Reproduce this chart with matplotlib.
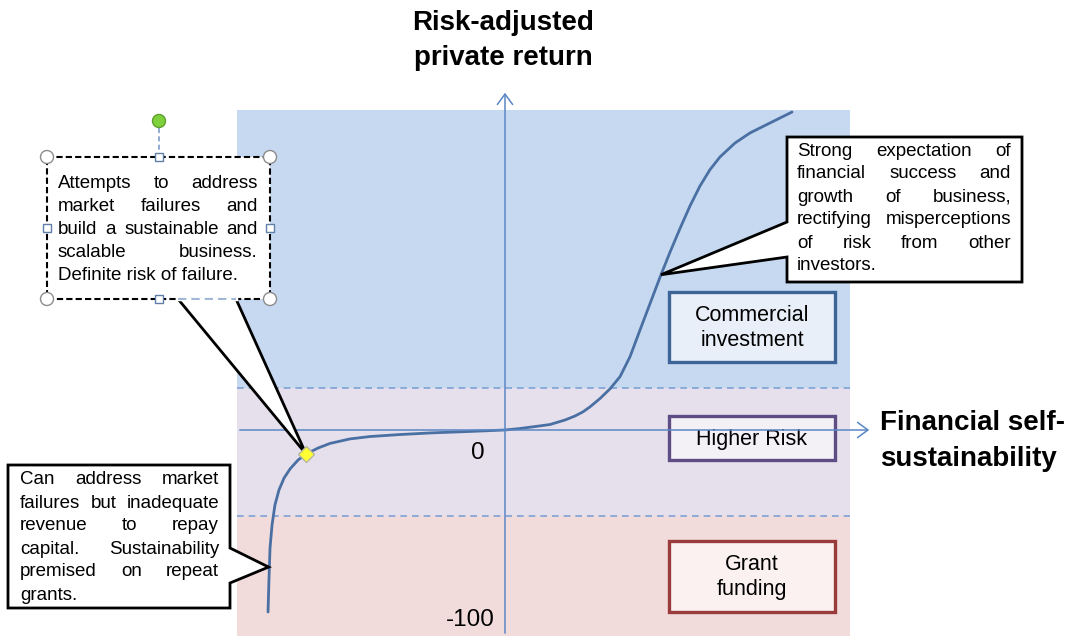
import numpy as np
import matplotlib.pyplot as plt
from matplotlib.patches import Rectangle, Polygon, Circle

plt.rcParams['font.family'] = ['Liberation Sans', 'DejaVu Sans']

# curve (x: self-sustainability, y: risk-adjusted return)
curve_x = [-130.2, -129.7, -129.1, -128.0, -126.4, -124.2, -121.4, -118.1, -113.7,
           -109.3, -102.7, -96.2, -85.2, -74.2, -57.7, -40.7, -19.2, 0.0,
           8.2, 16.5, 24.7, 33.0, 38.5, 42.9, 46.7, 52.2, 57.7, 63.2, 68.7,
           74.2, 79.7, 85.2, 90.7, 96.2, 101.6, 107.1, 112.6, 118.1, 126.4,
           134.6, 145.6, 157.7]
curve_y = [-100.0, -82.4, -64.8, -52.2, -41.2, -33.0, -26.4, -21.4, -16.5,
           -13.2, -9.9, -7.4, -4.9, -3.6, -2.5, -1.6, -0.8, 0.0,
           0.8, 1.9, 3.0, 5.5, 7.7, 10.0, 12.7, 17.3, 22.6, 29.3, 40.3,
           55.0, 69.5, 84.0, 97.8, 110.8, 123.0, 134.0, 143.0, 150.0, 157.7,
           163.2, 168.7, 174.7]

marker_pt = (-109.3, -13.2)      # yellow diamond
growth_pt = (85.7, 85.3)         # right callout points here
grant_pt = (-129.9, -75.3)       # lower-left callout points here

band_edges = [175.8, 23.1, -47.3, -113.2]
band_colors = ['#C6D9F1', '#E5E0EC', '#F2DCDB']

tick_labels = ['0', '-100']
tick_pos = [(-14.8, -12.6), (-19.2, -104.4)]

zones = ['Commercial\ninvestment', 'Higher Risk', 'Grant\nfunding']
zone_edges = ['#3C6496', '#5E4C84', '#993B3A']
zone_fills = ['#E9EFF8', '#F3F0F6', '#FBF1F1']

text_top_left = ['Attempts to address', 'market failures and',
                 'build a sustainable and', 'scalable business.',
                 'Definite risk of failure.']
text_bottom_left = ['Can address market', 'failures but inadequate',
                    'revenue to repay', 'capital. Sustainability',
                    'premised on repeat', 'grants.']
text_right = ['Strong expectation of', 'financial success and',
              'growth of business,', 'rectifying misperceptions',
              'of risk from other', 'investors.']

W, H = 1078, 636
fig = plt.figure(figsize=(W / 100, H / 100), dpi=100)

# data axes sits on the shaded area
ax = fig.add_axes([237 / W, 0, 613 / W, 526 / H])
ax.set_xlim(-147.25, 189.56)
ax.set_ylim(-113.19, 175.82)
ax.axis('off')
for top, bot, c in zip(band_edges[:-1], band_edges[1:], band_colors):
    ax.axhspan(bot, top, color=c, lw=0, zorder=0)
for yb in band_edges[1:-1]:
    ax.axhline(yb, color='#7EA1D3', lw=1.2, ls=(0, (4, 3)), zorder=1)
ax.plot(curve_x, curve_y, color='#4A70A3', lw=2, zorder=3,
        solid_capstyle='round', solid_joinstyle='round')
for (tx, ty), lab in zip(tick_pos, tick_labels):
    ax.text(tx, ty, lab, fontsize=17.5, ha='center', va='center', zorder=4)

# overlay in pixel units for boxes, callouts and labels
ov = fig.add_axes([0, 0, 1, 1])
ov.set_xlim(0, W)
ov.set_ylim(H, 0)
ov.axis('off')
ov.patch.set_alpha(0)


def to_px(pt):
    return ov.transData.inverted().transform(ax.transData.transform(pt))


ox, oy = to_px((0, 0))

# zone boxes
zone_boxes = [(669, 292, 166, 70), (669, 416, 166, 44), (669, 541, 166, 71)]
for (bx, by, bw, bh), lab, ec, fc in zip(zone_boxes, zones, zone_edges, zone_fills):
    ov.add_patch(Rectangle((bx, by), bw, bh, fc=fc, ec=ec, lw=2.4, zorder=3))
    ov.text(bx + bw / 2, by + bh / 2 + 1, lab, ha='center', va='center',
            fontsize=15.5, linespacing=1.25, zorder=4)

# axes arrows
arw = dict(arrowstyle='->,head_length=0.75,head_width=0.55', color='#5B87C5', lw=1.1)
ov.annotate('', xy=(ox, 90), xytext=(ox, H), arrowprops=arw, zorder=5)
ov.annotate('', xy=(872, oy), xytext=(237, oy), arrowprops=arw, zorder=5)

# right callout
tip = to_px(growth_pt)
ov.add_patch(Polygon([(787, 137), (1022, 137), (1022, 282), (787, 282), (787, 257),
                      tuple(tip), (787, 222)], closed=True, fc='white', ec='black',
                     lw=2, zorder=6))

# lower-left callout
tip = to_px(grant_pt)
ov.add_patch(Polygon([(8, 465), (230, 465), (230, 548), tuple(tip), (230, 583),
                      (230, 608), (8, 608)], closed=True, fc='white', ec='black',
                     lw=2, zorder=6))

# upper-left callout (shown selected, with handles)
tip = to_px(marker_pt)
ov.add_patch(Polygon([(178, 299), tuple(tip), (236, 299)], closed=False,
                     fc='white', ec='black', lw=2, zorder=6))
ov.add_patch(Rectangle((47, 157), 223, 142, fc='white', ec='black', lw=1.5,
                       ls=(0, (3, 1.5)), zorder=6))
ov.plot([178, 236], [299, 299], color='white', lw=2.5, zorder=7)
ov.plot([178, 236], [299, 299], color='#8DA9CF', lw=1.2, ls=(0, (5, 3)), zorder=7)
ov.plot([159, 159], [128, 152], color='#7F9CC8', lw=1.2, ls=(0, (3, 2)), zorder=7)
ov.add_patch(Circle((159, 121), 6.5, fc='#7FD13B', ec='#5E9E2E', lw=1, zorder=8))
for cx, cy in [(47, 157), (270, 157), (47, 299), (270, 299)]:
    ov.add_patch(Circle((cx, cy), 6.5, fc='white', ec='#8C8C8C', lw=1, zorder=8))
for cx, cy in [(159, 157), (159, 299), (47, 228), (270, 228)]:
    ov.add_patch(Rectangle((cx - 4, cy - 4), 8, 8, fc='white', ec='#5F7FA8', lw=1, zorder=8))

mx, my = to_px(marker_pt)
ov.plot(mx, my, marker='D', ms=8, mfc='#FFFF33', mec='#B5B5A0', mew=1, zorder=9)

renderer = fig.canvas.get_renderer()


def justify(lines, x0, x1, y0, step, fs=13.5):
    for i, line in enumerate(lines):
        y = y0 + i * step
        if i == len(lines) - 1:
            ov.text(x0, y, line, fontsize=fs, va='center', ha='left', zorder=10)
            continue
        words = line.split()
        objs = [ov.text(x0, y, w, fontsize=fs, va='center', ha='left', zorder=10)
                for w in words]
        widths = [t.get_window_extent(renderer).width for t in objs]
        gap = (x1 - x0 - sum(widths)) / max(len(words) - 1, 1)
        x = x0
        for t, w in zip(objs, widths):
            t.set_x(x)
            x += w + gap


justify(text_top_left, 58, 258, 183, 23.1)
justify(text_bottom_left, 20, 219, 480, 23.0)
justify(text_right, 797, 1011, 151, 23.0)

# axis titles
ov.text(503, 23, 'Risk-adjusted', fontsize=20, fontweight='bold', ha='center', va='center')
ov.text(503, 58, 'private return', fontsize=20, fontweight='bold', ha='center', va='center')
ov.text(880, 423, 'Financial self-', fontsize=20, fontweight='bold', ha='left', va='center')
ov.text(880, 459, 'sustainability', fontsize=20, fontweight='bold', ha='left', va='center')

fig.savefig('out.png', dpi=100)
